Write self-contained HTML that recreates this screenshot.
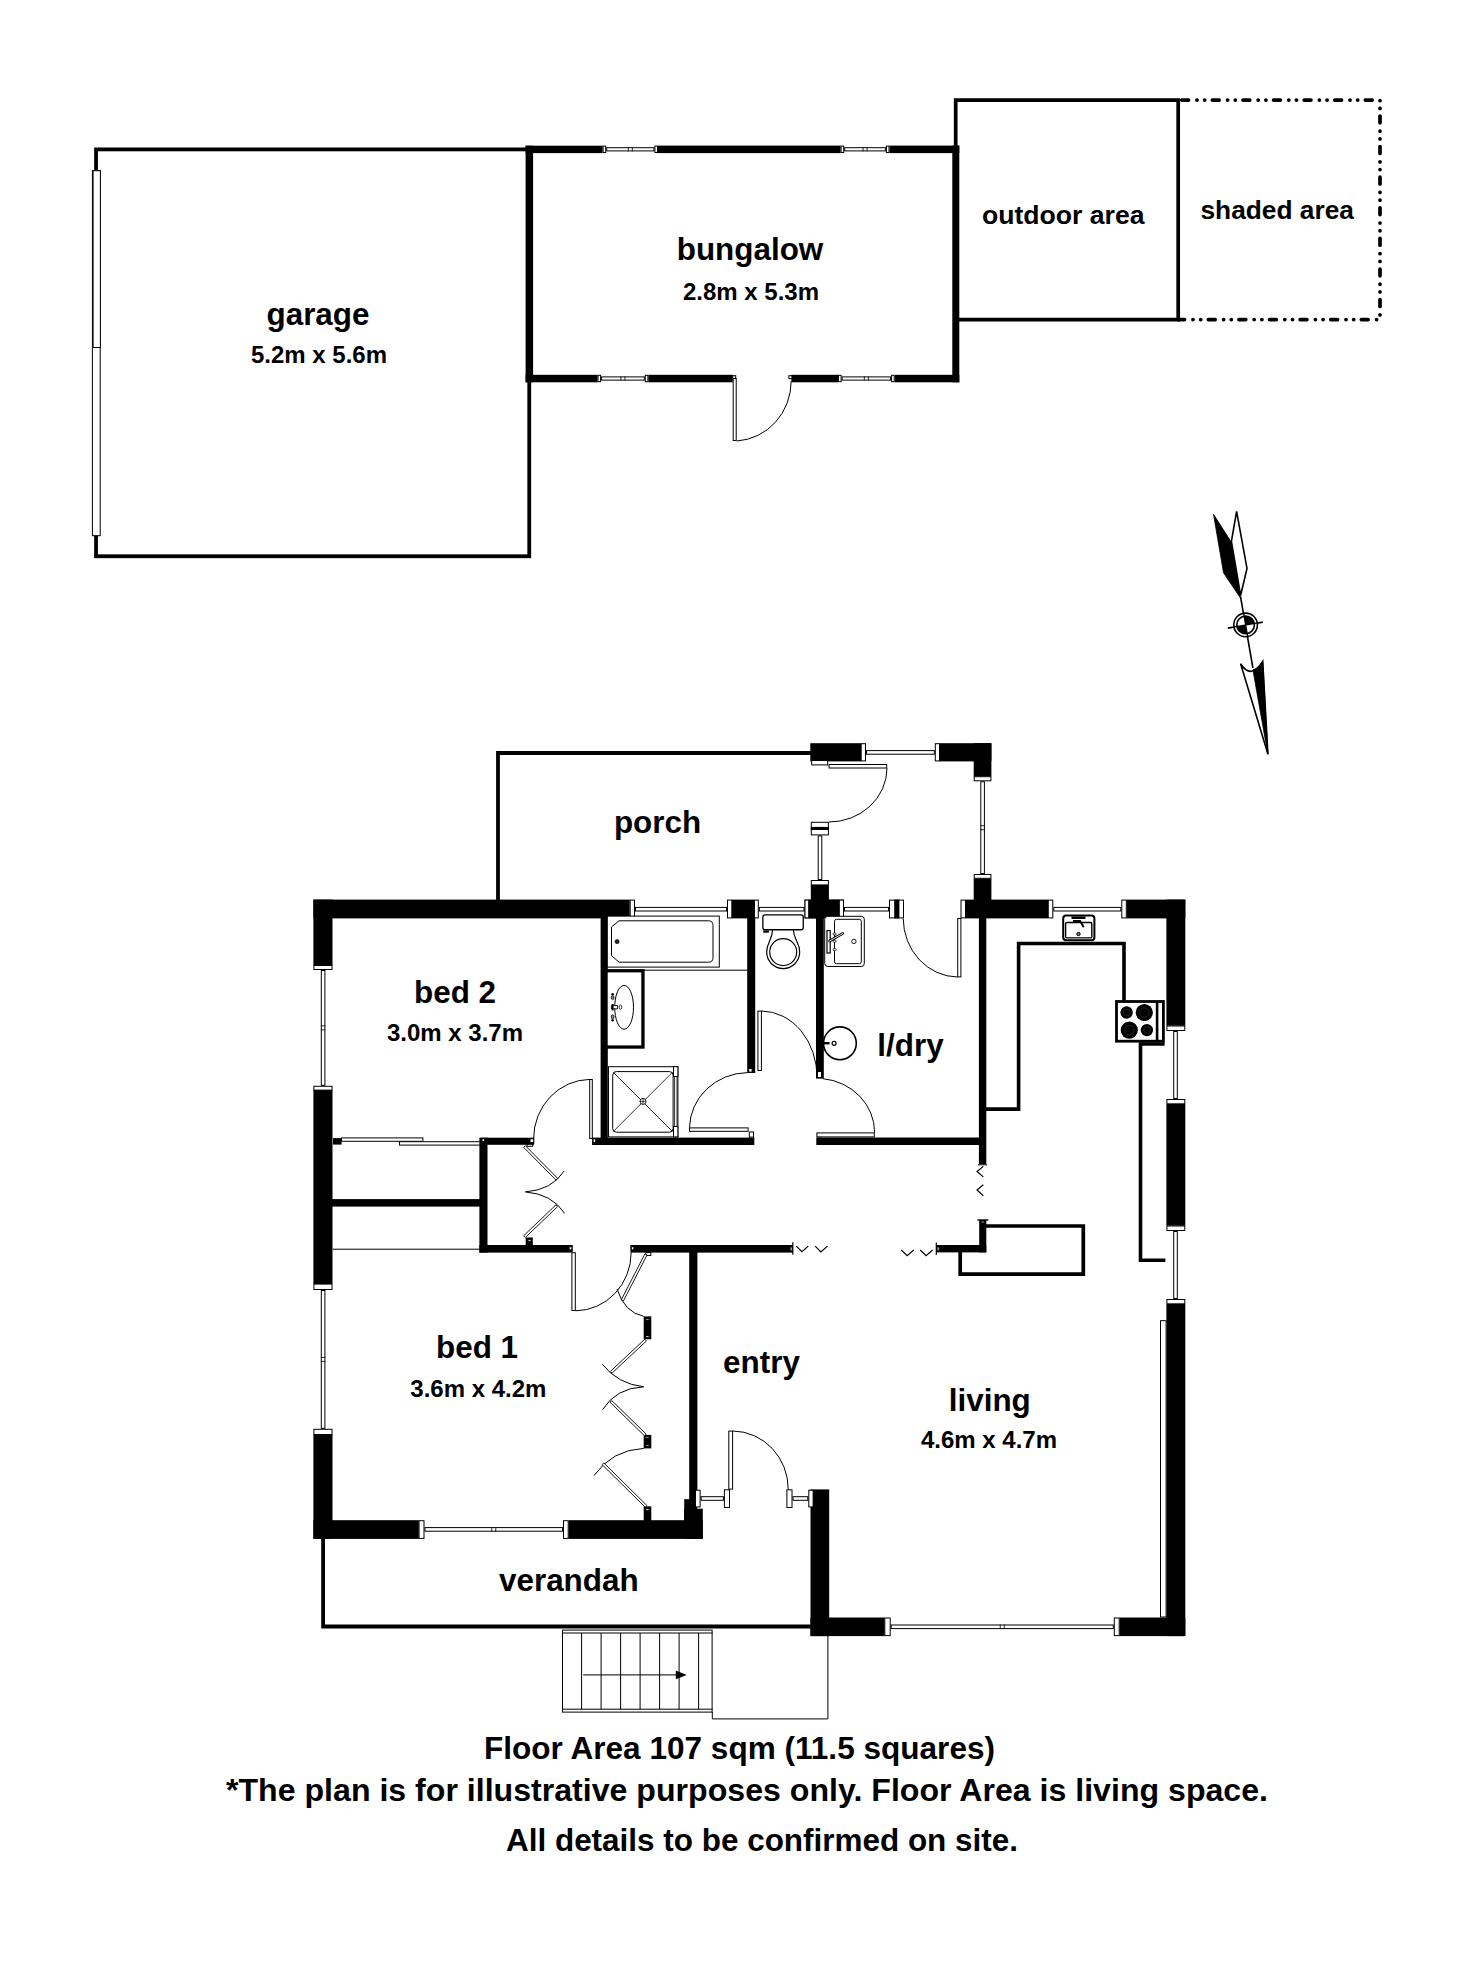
<!DOCTYPE html>
<html lang="en">
<head>
<meta charset="utf-8">
<title>Floor Plan</title>
<style>
html,body{margin:0;padding:0;background:#fff;}
body{width:1472px;height:1963px;overflow:hidden;}
svg{display:block;}
svg text{font-family:"Liberation Sans",sans-serif;font-weight:bold;fill:#000;}
.c{fill:#fff;stroke:#000;}
.t{fill:none;stroke:#000;}
</style>
</head>
<body>
<svg width="1472" height="1963" viewBox="0 0 1472 1963">
<rect x="0" y="0" width="1472" height="1963" fill="#fff"/>
<g id="garage">
<rect class="t" x="96.05" y="149.4" width="433.2" height="406.85" stroke-width="3.8"/>
<rect class="c" x="92.4" y="170.7" width="7.8" height="365" stroke-width="1"/>
<rect class="c" x="93.1" y="170.7" width="7.3" height="176.8" stroke-width="1"/>
</g>
<g id="outdoor">
<path d="M955.7 150 V100.1 H1178.2 V319.6 H957" fill="none" stroke="#000" stroke-width="3.7"/>
<path d="M1178 100.1 H1380" fill="none" stroke="#000" stroke-width="3.7" stroke-dasharray="6.8 8.4 0.1 7.6 0.1 7.6" stroke-linecap="round" stroke-dashoffset="-3.75"/>
<path d="M1380 100.1 V319.6" fill="none" stroke="#000" stroke-width="3.7" stroke-dasharray="6.8 8.4 0.1 7.6 0.1 7.6" stroke-linecap="round" stroke-dashoffset="-15.9"/>
<path d="M1178 319.6 H1380" fill="none" stroke="#000" stroke-width="3.7" stroke-dasharray="6.8 8.4 0.1 7.6 0.1 7.6" stroke-linecap="round" stroke-dashoffset="0.25"/>
</g>
<g id="bungalow">
<rect x="525.6" y="145.7" width="7.5" height="236.6"/>
<rect x="952.3" y="145.6" width="7" height="236.7"/>
<rect x="525.6" y="145.7" width="77" height="7.4"/>
<rect x="658" y="145.6" width="182.6" height="7.5"/>
<rect x="889.5" y="145.6" width="69.8" height="7.5"/>
<rect x="525.6" y="374.8" width="71.9" height="7.5"/>
<rect x="648.4" y="374.8" width="84.3" height="7.5"/>
<rect x="791.4" y="374.8" width="46.6" height="7.5"/>
<rect x="894.7" y="374.8" width="64.6" height="7.5"/>
<rect class="c" x="603.1" y="146.1" width="2.6" height="6.4" stroke-width="1"/>
<rect class="c" x="654.9" y="146.1" width="2.6" height="6.4" stroke-width="1"/>
<rect class="c" x="606.7" y="147.7" width="47.2" height="3.2" stroke-width="1"/>
<line x1="628.3" y1="147.2" x2="628.3" y2="151.4" stroke="#000" stroke-width="0.8"/>
<line x1="632.3" y1="147.2" x2="632.3" y2="151.4" stroke="#000" stroke-width="0.8"/>
<rect class="c" x="841.1" y="146.1" width="2.6" height="6.4" stroke-width="1"/>
<rect class="c" x="886.4" y="146.1" width="2.6" height="6.4" stroke-width="1"/>
<rect class="c" x="844.7" y="147.7" width="40.7" height="3.2" stroke-width="1"/>
<line x1="863.05" y1="147.2" x2="863.05" y2="151.4" stroke="#000" stroke-width="0.8"/>
<line x1="867.05" y1="147.2" x2="867.05" y2="151.4" stroke="#000" stroke-width="0.8"/>
<rect class="c" x="598" y="375.3" width="2.6" height="6.4" stroke-width="1"/>
<rect class="c" x="645.3" y="375.3" width="2.6" height="6.4" stroke-width="1"/>
<rect class="c" x="601.6" y="376.9" width="42.7" height="3.2" stroke-width="1"/>
<line x1="620.95" y1="376.4" x2="620.95" y2="380.6" stroke="#000" stroke-width="0.8"/>
<line x1="624.95" y1="376.4" x2="624.95" y2="380.6" stroke="#000" stroke-width="0.8"/>
<rect class="c" x="838.5" y="375.3" width="2.6" height="6.4" stroke-width="1"/>
<rect class="c" x="891.6" y="375.3" width="2.6" height="6.4" stroke-width="1"/>
<rect class="c" x="842.1" y="376.9" width="48.5" height="3.2" stroke-width="1"/>
<line x1="864.35" y1="376.4" x2="864.35" y2="380.6" stroke="#000" stroke-width="0.8"/>
<line x1="868.35" y1="376.4" x2="868.35" y2="380.6" stroke="#000" stroke-width="0.8"/>
<rect class="c" x="732.7" y="375.7" width="3" height="3" stroke-width="1"/>
<rect class="c" x="788.9" y="375.7" width="3" height="3" stroke-width="1"/>
<rect class="c" x="733.2" y="378.5" width="3" height="62" stroke-width="1"/>
<path d="M736.7 441 A58 60 0 0 0 791.2 381" fill="none" stroke="#000" stroke-width="1"/>
</g>
<g id="north">
<path d="M1213.5 514.3 L1230.9 541.6 L1240.8 598.6 L1223.5 572.8 Z" fill="#000" stroke="#000" stroke-width="0.8"/>
<path d="M1236.6 511.3 L1231.4 541.4 L1240.6 595.5 L1247 568.4 Z" fill="#fff" stroke="#000" stroke-width="1.6" stroke-linejoin="miter"/>
<line x1="1240.6" y1="597" x2="1252.9" y2="668" stroke="#000" stroke-width="1.6"/>
<line x1="1227.8" y1="628.1" x2="1262.8" y2="622.1" stroke="#000" stroke-width="1.6"/>
<circle cx="1245.6" cy="624.9" r="11.8" fill="#fff" stroke="#000" stroke-width="1.6"/>
<circle cx="1245.6" cy="624.9" r="8.8" fill="#fff" stroke="#000" stroke-width="1.6"/>
<g transform="rotate(-9.7 1245.6 624.9)">
<path d="M1245.6 624.9 V616.1 A8.8 8.8 0 0 1 1254.4 624.9 Z" fill="#000"/>
<path d="M1245.6 624.9 V633.7 A8.8 8.8 0 0 1 1236.8 624.9 Z" fill="#000"/>
</g>
<line x1="1243.5" y1="612.5" x2="1247.8" y2="637.5" stroke="#000" stroke-width="1.4"/>
<line x1="1233.5" y1="627.1" x2="1257.8" y2="622.9" stroke="#000" stroke-width="1.4"/>
<path d="M1240.6 663.8 Q1251 680 1262.7 661.4 L1267.9 754 Z" fill="#fff" stroke="#000" stroke-width="1.6" stroke-linejoin="miter"/>
<path d="M1252.9 669.8 Q1258.6 668.5 1262.7 661 L1267.9 754.4 Z" fill="#000" stroke="#000" stroke-width="0.8"/>
</g>
<g id="porch">
<path d="M498 900 V753 H811" fill="none" stroke="#000" stroke-width="3.8"/>
</g>
<g id="verandah">
<path d="M323.1 1538 V1626.5 H811" fill="none" stroke="#000" stroke-width="3.8"/>
<path d="M827.9 1635 V1718.9 H712.3 V1712" fill="none" stroke="#000" stroke-width="1"/>
<rect class="c" x="562.5" y="1630.1" width="149.6" height="82" stroke-width="1"/>
<line x1="562" y1="1633" x2="712.6" y2="1633" stroke="#000" stroke-width="1"/>
<line x1="562" y1="1709.2" x2="712.6" y2="1709.2" stroke="#000" stroke-width="1"/>
<line x1="581.6" y1="1633" x2="581.6" y2="1709.2" stroke="#000" stroke-width="1"/>
<line x1="601.1" y1="1633" x2="601.1" y2="1709.2" stroke="#000" stroke-width="1"/>
<line x1="620.6" y1="1633" x2="620.6" y2="1709.2" stroke="#000" stroke-width="1"/>
<line x1="640.1" y1="1633" x2="640.1" y2="1709.2" stroke="#000" stroke-width="1"/>
<line x1="659.6" y1="1633" x2="659.6" y2="1709.2" stroke="#000" stroke-width="1"/>
<line x1="679.1" y1="1633" x2="679.1" y2="1709.2" stroke="#000" stroke-width="1"/>
<line x1="698.6" y1="1633" x2="698.6" y2="1709.2" stroke="#000" stroke-width="1"/>
<line x1="583.2" y1="1674.9" x2="678" y2="1674.9" stroke="#000" stroke-width="1"/>
<path d="M675.8 1670.6 L686.8 1674.9 L675.8 1679.2 Z" fill="#000"/>
</g>
<g id="walls">
<rect x="313.4" y="899.6" width="19.1" height="65.9"/>
<rect x="313.4" y="1090" width="19.1" height="194"/>
<rect x="313.4" y="1434.5" width="19.1" height="104.4"/>
<rect x="313.4" y="899.6" width="316.3" height="18.8"/>
<rect x="732" y="899.6" width="22.3" height="18.8"/>
<rect x="809" y="899.6" width="30" height="18.8"/>
<rect x="965.8" y="899.6" width="82.2" height="18.8"/>
<rect x="1126.6" y="899.6" width="58.7" height="18.8"/>
<rect x="1166.4" y="899.6" width="18.9" height="126.1"/>
<rect x="1166.4" y="1104" width="18.9" height="121.7"/>
<rect x="1166.4" y="1304" width="18.9" height="332.1"/>
<rect x="810.5" y="1617.5" width="74.1" height="18.6"/>
<rect x="1119.5" y="1617.5" width="65.8" height="18.6"/>
<rect x="810.5" y="1489.4" width="18.7" height="146.7"/>
<rect x="313.4" y="1520.2" width="105.4" height="18.7"/>
<rect x="568.5" y="1520.2" width="134.3" height="18.7"/>
<rect x="684.2" y="1499.2" width="13.2" height="39.7"/>
<rect x="684.2" y="1508.7" width="18.6" height="30.2"/>
<rect x="689.2" y="1252" width="8.2" height="248"/>
<rect x="600.6" y="917.9" width="7.2" height="227.1"/>
<rect x="480.8" y="1137.7" width="53.4" height="7.1"/>
<rect x="333" y="1138.1" width="8.6" height="6.5"/>
<rect x="592.1" y="1137.6" width="162.2" height="7.4"/>
<rect x="479.4" y="1137.7" width="8.1" height="114.9"/>
<rect x="479.4" y="1245" width="93.3" height="7.6"/>
<rect x="332" y="1199.1" width="148" height="7.5"/>
<rect x="525.7" y="1237.5" width="7.1" height="8.5"/>
<rect x="630.4" y="1245" width="162.6" height="7.6"/>
<rect x="747.2" y="917.9" width="8" height="155.1"/>
<rect x="816" y="917.9" width="7.8" height="160.7"/>
<rect x="816.3" y="1137.5" width="163.2" height="7.5"/>
<rect x="978.9" y="917.9" width="7.4" height="246.3"/>
<rect x="979.2" y="1220" width="7.1" height="32.4"/>
<rect x="936.1" y="1245" width="50.2" height="7.4"/>
<rect x="810.3" y="743.2" width="50.7" height="18.2"/>
<rect x="939.6" y="743.2" width="51.8" height="18.2"/>
<rect x="973.7" y="743.2" width="17.7" height="33.3"/>
<rect x="973.7" y="878.5" width="17.7" height="21.6"/>
<rect x="810.8" y="885" width="18.1" height="15.1"/>
<rect x="804.5" y="899.6" width="39.5" height="18.8"/>
<rect x="643.7" y="1316.4" width="7.6" height="22.9"/>
<rect x="643.7" y="1434.9" width="7.6" height="13.5"/>
<rect x="643.7" y="1506.4" width="7.6" height="14.6"/>
</g>
<g id="caps">
<rect class="c" x="313.9" y="965.5" width="18.1" height="4" stroke-width="1"/>
<rect class="c" x="313.9" y="1086.3" width="18.1" height="3.8" stroke-width="1"/>
<rect class="c" x="313.9" y="1284.1" width="18.1" height="5.4" stroke-width="1"/>
<rect class="c" x="313.9" y="1429.3" width="18.1" height="5.2" stroke-width="1"/>
<rect class="c" x="321.3" y="970.5" width="3.6" height="114.8" stroke-width="1"/>
<line x1="320.8" y1="1025.9" x2="325.4" y2="1025.9" stroke="#000" stroke-width="0.8"/>
<line x1="320.8" y1="1029.9" x2="325.4" y2="1029.9" stroke="#000" stroke-width="0.8"/>
<rect class="c" x="321.3" y="1290.5" width="3.6" height="137.8" stroke-width="1"/>
<line x1="320.8" y1="1357.4" x2="325.4" y2="1357.4" stroke="#000" stroke-width="0.8"/>
<line x1="320.8" y1="1361.4" x2="325.4" y2="1361.4" stroke="#000" stroke-width="0.8"/>
<rect class="c" x="630.2" y="900.1" width="4.3" height="17.8" stroke-width="1"/>
<rect class="c" x="727.5" y="900.1" width="4.3" height="17.8" stroke-width="1"/>
<rect class="c" x="635.5" y="907.4" width="91" height="3.6" stroke-width="1"/>
<rect class="c" x="754.5" y="900.1" width="3.8" height="17.8" stroke-width="1"/>
<rect class="c" x="805" y="900.1" width="3.7" height="17.8" stroke-width="1"/>
<rect class="c" x="759.3" y="907.4" width="44.7" height="3.6" stroke-width="1"/>
<rect class="c" x="839.3" y="900.1" width="4.2" height="17.8" stroke-width="1"/>
<rect class="c" x="844.5" y="907.4" width="44" height="3.6" stroke-width="1"/>
<rect class="c" x="889.5" y="900.1" width="14" height="17.8" stroke-width="1"/>
<rect x="894.2" y="899.6" width="5.2" height="18.8"/>
<rect class="c" x="961" y="900.1" width="4.5" height="17.8" stroke-width="1"/>
<rect class="c" x="1048.3" y="900.1" width="4.5" height="17.8" stroke-width="1"/>
<rect class="c" x="1121.8" y="900.1" width="4.5" height="17.8" stroke-width="1"/>
<rect class="c" x="1053.8" y="907.4" width="67" height="3.6" stroke-width="1"/>
<rect class="c" x="1166.9" y="1026" width="17.9" height="4.5" stroke-width="1"/>
<rect class="c" x="1166.9" y="1099.5" width="17.9" height="4.3" stroke-width="1"/>
<rect class="c" x="1173.7" y="1031.5" width="3.6" height="67" stroke-width="1"/>
<rect class="c" x="1166.9" y="1226" width="17.9" height="4.5" stroke-width="1"/>
<rect class="c" x="1166.9" y="1299.5" width="17.9" height="4.3" stroke-width="1"/>
<rect class="c" x="1173.7" y="1231.5" width="3.6" height="67" stroke-width="1"/>
<rect class="c" x="1160.5" y="1320.7" width="5.6" height="296.3" stroke-width="1"/>
<rect class="c" x="884.8" y="1618" width="5.4" height="17.6" stroke-width="1"/>
<rect class="c" x="1114.3" y="1618" width="4.9" height="17.6" stroke-width="1"/>
<rect class="c" x="891.2" y="1625" width="222.1" height="3.6" stroke-width="1"/>
<line x1="1000.25" y1="1624.5" x2="1000.25" y2="1629.1" stroke="#000" stroke-width="0.8"/>
<line x1="1004.25" y1="1624.5" x2="1004.25" y2="1629.1" stroke="#000" stroke-width="0.8"/>
<rect class="c" x="419.1" y="1520.7" width="4.9" height="17.7" stroke-width="1"/>
<rect class="c" x="563.5" y="1520.7" width="4.7" height="17.7" stroke-width="1"/>
<rect class="c" x="425" y="1527.6" width="137.5" height="3.6" stroke-width="1"/>
<line x1="491.75" y1="1527.1" x2="491.75" y2="1531.7" stroke="#000" stroke-width="0.8"/>
<line x1="495.75" y1="1527.1" x2="495.75" y2="1531.7" stroke="#000" stroke-width="0.8"/>
<rect class="c" x="695.5" y="1490.2" width="4.6" height="16.7" stroke-width="1"/>
<rect class="c" x="724.4" y="1489.8" width="5.1" height="17.7" stroke-width="1"/>
<rect class="c" x="701.1" y="1496.7" width="22.3" height="3.6" stroke-width="1"/>
<rect class="c" x="786.9" y="1489.8" width="5.1" height="17.7" stroke-width="1"/>
<rect class="c" x="808.8" y="1490.2" width="4.3" height="16.7" stroke-width="1"/>
<rect class="c" x="793" y="1496.7" width="14.8" height="3.6" stroke-width="1"/>
<rect class="c" x="861.2" y="743.7" width="4.3" height="17.2" stroke-width="1"/>
<rect class="c" x="935.3" y="743.7" width="4.2" height="17.2" stroke-width="1"/>
<rect class="c" x="866.5" y="750.6" width="67.8" height="3.6" stroke-width="1"/>
<rect class="c" x="811.7" y="760.5" width="16" height="4.4" stroke-width="1"/>
<rect class="c" x="974.2" y="776.7" width="16.7" height="4.1" stroke-width="1"/>
<rect class="c" x="974.2" y="874.5" width="16.7" height="3.8" stroke-width="1"/>
<rect class="c" x="980.8" y="781.8" width="3.6" height="91.7" stroke-width="1"/>
<line x1="980.3" y1="825.65" x2="984.9" y2="825.65" stroke="#000" stroke-width="0.8"/>
<line x1="980.3" y1="829.65" x2="984.9" y2="829.65" stroke="#000" stroke-width="0.8"/>
<rect class="c" x="811.3" y="822.3" width="17.1" height="12.6" stroke-width="1"/>
<rect x="810.8" y="826.9" width="18.1" height="3.1"/>
<rect class="c" x="811.3" y="880.5" width="17.1" height="4.4" stroke-width="1"/>
<rect class="c" x="818.2" y="835.9" width="3.6" height="43.6" stroke-width="1"/>
<rect class="c" x="530" y="1138.8" width="3.7" height="3.7" stroke-width="1"/>
<rect class="c" x="482" y="1138.8" width="2.5" height="2.7" stroke-width="1"/>
<rect class="c" x="593.1" y="1138.8" width="2.6" height="3.9" stroke-width="1"/>
<rect class="c" x="749.3" y="1132" width="4.2" height="5.1" stroke-width="1"/>
<rect class="c" x="817.5" y="1133.5" width="4" height="3.4" stroke-width="1"/>
<rect class="c" x="817.5" y="1071.5" width="4" height="6" stroke-width="1"/>
<rect class="c" x="748.7" y="1068.5" width="3.4" height="3.6" stroke-width="1"/>
<rect class="c" x="569.1" y="1246.7" width="2.8" height="3.2" stroke-width="1"/>
<rect class="c" x="631.3" y="1246.7" width="2.6" height="3.2" stroke-width="1"/>
<rect class="c" x="645.8" y="1252.5" width="5" height="3" stroke-width="1"/>
<rect class="c" x="527.1" y="1144.3" width="5.6" height="2" stroke-width="1"/>
<rect class="c" x="527.9" y="1239.3" width="3.2" height="2" stroke-width="1"/>
<rect class="c" x="645.7" y="1318.5" width="3.4" height="1.6" stroke-width="1"/>
<rect class="c" x="645.7" y="1335.5" width="3.4" height="1.8" stroke-width="1"/>
<rect class="c" x="645.7" y="1436.9" width="3.4" height="1.6" stroke-width="1"/>
<rect class="c" x="645.7" y="1444.5" width="3.4" height="1.6" stroke-width="1"/>
<rect class="c" x="645.7" y="1508.5" width="3.4" height="1.8" stroke-width="1"/>
</g>
<g id="doors">
<rect class="c" x="589.7" y="1079.5" width="2.6" height="59" stroke-width="1"/>
<path d="M589.6 1079.4 A57 59.5 0 0 0 533.6 1138.5" fill="none" stroke="#000" stroke-width="1"/>
<rect class="c" x="689.5" y="1127.9" width="58.6" height="3.4" stroke-width="1"/>
<path d="M689.5 1127.6 A59 56 0 0 1 747.4 1072.6" fill="none" stroke="#000" stroke-width="1"/>
<rect class="c" x="757.9" y="1011.1" width="3.5" height="59.4" stroke-width="1"/>
<path d="M761.6 1011 A56 66 0 0 1 817 1078" fill="none" stroke="#000" stroke-width="1"/>
<rect class="c" x="816.9" y="1132.9" width="57.4" height="4" stroke-width="1"/>
<path d="M874.6 1132.6 A58 54 0 0 0 822.5 1078.6" fill="none" stroke="#000" stroke-width="1"/>
<rect class="c" x="957.7" y="918.5" width="3.2" height="58.4" stroke-width="1"/>
<path d="M957.6 977 A55 59 0 0 1 903.2 918.4" fill="none" stroke="#000" stroke-width="1"/>
<rect class="c" x="829.1" y="764.5" width="57.6" height="3.5" stroke-width="1"/>
<path d="M887 768.2 A58 54 0 0 1 829 822" fill="none" stroke="#000" stroke-width="1"/>
<rect class="c" x="571.9" y="1252.7" width="3.4" height="57.8" stroke-width="1"/>
<path d="M575.6 1310.8 A56 58.5 0 0 0 631.2 1252.4" fill="none" stroke="#000" stroke-width="1"/>
<rect class="c" x="728.8" y="1431.1" width="3.8" height="58" stroke-width="1"/>
<path d="M733 1431 A56 58 0 0 1 788.2 1489.4" fill="none" stroke="#000" stroke-width="1"/>
<rect class="c" x="341.5" y="1137.9" width="81.4" height="3.4" stroke-width="1"/>
<rect class="c" x="399.5" y="1141.7" width="80.4" height="3.4" stroke-width="1"/>
<line x1="332.6" y1="1249.2" x2="479.6" y2="1249.2" stroke="#000" stroke-width="1"/>
<path d="M644.93 1253.85 L621.33 1299.75 L623.47 1300.85 L647.07 1254.95 Z" fill="#fff" stroke="#000" stroke-width="0.9"/>
<path d="M617.2 1289.2 Q624 1312 643.7 1316.4" fill="none" stroke="#000" stroke-width="1"/>
<path d="M644.78 1339.22 L610.48 1371.32 L612.12 1373.08 L646.42 1340.98 Z" fill="#fff" stroke="#000" stroke-width="0.9"/>
<path d="M602.3 1364.3 Q618 1384 643.7 1386.8" fill="none" stroke="#000" stroke-width="1"/>
<path d="M643.7 1386.8 Q616 1388 602.6 1409.7" fill="none" stroke="#000" stroke-width="1"/>
<path d="M610.06 1402.26 L644.46 1435.76 L646.14 1434.04 L611.74 1400.54 Z" fill="#fff" stroke="#000" stroke-width="0.9"/>
<path d="M643.7 1448.4 Q612 1450 594 1475.6" fill="none" stroke="#000" stroke-width="1"/>
<path d="M602.16 1464.65 L645.26 1507.25 L646.94 1505.55 L603.84 1462.95 Z" fill="#fff" stroke="#000" stroke-width="0.9"/>
<path d="M523.65 1147.34 L555.95 1180.04 L557.65 1178.36 L525.35 1145.66 Z" fill="#fff" stroke="#000" stroke-width="0.9"/>
<path d="M564.2 1170.9 Q552 1190 525.4 1191.9" fill="none" stroke="#000" stroke-width="1"/>
<path d="M525.4 1191.9 Q552 1194 564.6 1213.3" fill="none" stroke="#000" stroke-width="1"/>
<path d="M555.97 1204.83 L523.67 1235.73 L525.33 1237.47 L557.63 1206.57 Z" fill="#fff" stroke="#000" stroke-width="0.9"/>
<path d="M796.3 1246.1 L801.9 1251.7 L808.3 1246.1" fill="none" stroke="#000" stroke-width="1.2"/>
<path d="M815.2 1246.1 L820.9 1252 L827.4 1246.1" fill="none" stroke="#000" stroke-width="1.2"/>
<path d="M901.3 1250 L907.2 1255.6 L913.7 1250" fill="none" stroke="#000" stroke-width="1.2"/>
<path d="M920.2 1250 L926.1 1255.6 L932.6 1250" fill="none" stroke="#000" stroke-width="1.2"/>
<path d="M983.3 1166.4 L977 1171.5 L983.3 1176.9" fill="none" stroke="#000" stroke-width="1.2"/>
<path d="M983.3 1184.7 L977 1190 L983.3 1195.7" fill="none" stroke="#000" stroke-width="1.2"/>
<line x1="792.8" y1="1242.2" x2="792.8" y2="1254.8" stroke="#000" stroke-width="1.2"/>
<rect class="c" x="790.1" y="1246.9" width="2" height="4" stroke-width="1"/>
<line x1="936.3" y1="1242.6" x2="936.3" y2="1255" stroke="#000" stroke-width="1.2"/>
<rect class="c" x="937.1" y="1246.9" width="2" height="4" stroke-width="1"/>
<line x1="977.4" y1="1220" x2="988.3" y2="1220" stroke="#000" stroke-width="1.4"/>
<rect class="c" x="981.1" y="1221.1" width="3.2" height="1.8" stroke-width="1"/>
<line x1="978" y1="1164.8" x2="987.2" y2="1164.8" stroke="#000" stroke-width="1"/>
</g>
<g id="kitchen">
<path d="M986 1109.1 H1018.6 V943.5 H1124 V1001" fill="none" stroke="#000" stroke-width="3.6"/>
<path d="M1164.6 1044 H1140.5 V1260.2 H1165.4" fill="none" stroke="#000" stroke-width="3.6"/>
<path d="M986 1226 H1083.3 V1274.2 H960.2 V1252" fill="none" stroke="#000" stroke-width="3.7"/>
<rect class="c" x="1116.5" y="1001.5" width="46.9" height="39.7" stroke-width="2.8"/>
<line x1="1157.1" y1="1001" x2="1157.1" y2="1042" stroke="#000" stroke-width="2.6"/>
<circle cx="1126.6" cy="1012.5" r="6.2" fill="#000"/>
<circle cx="1126.6" cy="1012.5" r="3.41" fill="none" stroke="#444" stroke-width="0.5"/>
<circle cx="1144.3" cy="1012.5" r="8.6" fill="#000"/>
<circle cx="1144.3" cy="1012.5" r="4.73" fill="none" stroke="#444" stroke-width="0.5"/>
<circle cx="1129.3" cy="1030.1" r="8.6" fill="#000"/>
<circle cx="1129.3" cy="1030.1" r="4.73" fill="none" stroke="#444" stroke-width="0.5"/>
<circle cx="1146.9" cy="1030.1" r="6.2" fill="#000"/>
<circle cx="1146.9" cy="1030.1" r="3.41" fill="none" stroke="#444" stroke-width="0.5"/>
<rect class="c" x="1063.2" y="915.4" width="31.2" height="24.8" stroke-width="2" rx="3"/>
<rect class="c" x="1065.6" y="922.5" width="26.2" height="15.4" stroke-width="1.4" rx="1.2"/>
<rect x="1071.5" y="916.4" width="14" height="2.6"/>
<path d="M1073 921 H1080 L1083.8 927.3" fill="none" stroke="#000" stroke-width="2"/>
<circle cx="1078.5" cy="934" r="1.7" fill="#777" stroke="#000" stroke-width="1"/>
</g>
<g id="bath">
<rect class="c" x="607.3" y="916.1" width="112" height="51" stroke-width="1"/>
<path d="M619 920.8 H708.5 Q713 920.8 713 925.3 V957.7 Q713 962.2 708.5 962.2 H619 L611.5 955.6 V927 Z" fill="#fff" stroke="#000" stroke-width="1"/>
<circle cx="617.1" cy="941.6" r="2.1" fill="#222" stroke="#000" stroke-width="0.6"/>
<line x1="643" y1="970.2" x2="747.4" y2="970.2" stroke="#000" stroke-width="1"/>
<rect class="c" x="606.05" y="970.75" width="36.9" height="76.3" stroke-width="3.3"/>
<ellipse cx="624.1" cy="1007.3" rx="9.4" ry="21.9" fill="#fff" stroke="#000" stroke-width="1"/>
<ellipse cx="620.6" cy="1007.2" rx="1.3" ry="2.2" fill="#fff" stroke="#000" stroke-width="0.8"/>
<ellipse cx="612.6" cy="997.6" rx="1.4" ry="2" fill="#888" stroke="#000" stroke-width="0.8"/>
<ellipse cx="612.6" cy="994.2" rx="1.2" ry="1.2" fill="#000"/>
<ellipse cx="612.6" cy="1016.8" rx="1.4" ry="2" fill="#888" stroke="#000" stroke-width="0.8"/>
<ellipse cx="612.6" cy="1020.2" rx="1.2" ry="1.2" fill="#000"/>
<path d="M611.4 1005.6 H617.6 V1008.8 H611.4 Z" fill="#fff" stroke="#000" stroke-width="0.9"/>
<rect x="611.6" y="1004" width="2" height="6.4"/>
<rect class="c" x="608.5" y="1066.7" width="69.4" height="70.2" stroke-width="1"/>
<rect class="c" x="612.7" y="1071.6" width="60.4" height="60.6" stroke-width="1" rx="3.6"/>
<line x1="613.6" y1="1072.6" x2="672.2" y2="1131.2" stroke="#000" stroke-width="0.8"/>
<line x1="672.2" y1="1072.6" x2="613.6" y2="1131.2" stroke="#000" stroke-width="0.8"/>
<circle cx="643" cy="1101.4" r="3" fill="#fff" stroke="#000" stroke-width="0.9"/>
<line x1="640.2" y1="1101.4" x2="645.8" y2="1101.4" stroke="#000" stroke-width="0.7"/>
<line x1="643" y1="1098.6" x2="643" y2="1104.2" stroke="#000" stroke-width="0.7"/>
<rect class="c" x="673.5" y="1066.7" width="4.4" height="9.8" stroke-width="1"/>
<rect class="c" x="673.5" y="1126.5" width="4.4" height="10.4" stroke-width="1"/>
<line x1="674.6" y1="1077" x2="674.6" y2="1126" stroke="#000" stroke-width="0.8"/>
<line x1="677" y1="1077" x2="677" y2="1126" stroke="#000" stroke-width="0.8"/>
</g>
<g id="wc">
<path d="M772.5 930 C772.2 940.5 766.7 942 766.7 952.1 A16.5 16.5 0 1 0 799.7 952.1 C799.7 942 794 940.5 793.3 930" fill="#fff" stroke="#000" stroke-width="1.2"/>
<circle cx="783.2" cy="952.1" r="13.5" fill="#fff" stroke="#000" stroke-width="1.2"/>
<rect class="c" x="762.85" y="914.85" width="40.4" height="14.9" stroke-width="1.3" rx="2.2"/>
<rect x="763.2" y="930.4" width="5.7" height="2.3"/>
</g>
<g id="laundry">
<rect class="c" x="824.7" y="916.3" width="39.6" height="50.2" stroke-width="1" rx="3"/>
<rect class="c" x="834.5" y="919.3" width="26.8" height="44.4" stroke-width="1" rx="2"/>
<rect class="c" x="827" y="930.6" width="3.2" height="22.4" stroke-width="1.2"/>
<circle cx="853.9" cy="941.4" r="2.2" fill="#fff" stroke="#000" stroke-width="0.9"/>
<ellipse cx="834.6" cy="934" rx="1.6" ry="1.1" fill="#fff" stroke="#000" stroke-width="0.8"/>
<ellipse cx="834.6" cy="941.2" rx="1.6" ry="1.1" fill="#fff" stroke="#000" stroke-width="0.8"/>
<ellipse cx="834.6" cy="949.6" rx="1.6" ry="1.1" fill="#fff" stroke="#000" stroke-width="0.8"/>
<path d="M829.6 941 L842.8 933.4" fill="none" stroke="#000" stroke-width="2.6" stroke-linecap="round"/>
<path d="M829.6 941 L842.8 933.4" fill="none" stroke="#fff" stroke-width="0.9" stroke-linecap="round"/>
<circle cx="839.9" cy="1043.3" r="16.4" fill="#fff" stroke="#000" stroke-width="1.6"/>
<rect x="823.6" y="1042" width="6" height="2.4"/>
<circle cx="834.1" cy="1043.3" r="2" fill="#fff" stroke="#000" stroke-width="1.2"/>
</g>
<g id="labels">
<text x="318" y="325.3" font-size="31.4" text-anchor="middle">garage</text>
<text x="319" y="363.4" font-size="24" text-anchor="middle">5.2m x 5.6m</text>
<text x="750" y="260.3" font-size="31.4" text-anchor="middle">bungalow</text>
<text x="751" y="299.8" font-size="24" text-anchor="middle">2.8m x 5.3m</text>
<text x="1063.2" y="223.7" font-size="26.6" text-anchor="middle">outdoor area</text>
<text x="1277.2" y="219.1" font-size="26.3" text-anchor="middle">shaded area</text>
<text x="657.5" y="833.4" font-size="31.4" text-anchor="middle">porch</text>
<text x="455" y="1002.8" font-size="31.4" text-anchor="middle">bed 2</text>
<text x="455" y="1040.8" font-size="24" text-anchor="middle">3.0m x 3.7m</text>
<text x="910.5" y="1055.8" font-size="31.4" text-anchor="middle">l/dry</text>
<text x="477" y="1358.3" font-size="31.4" text-anchor="middle">bed 1</text>
<text x="478.4" y="1397" font-size="24" text-anchor="middle">3.6m x 4.2m</text>
<text x="761.5" y="1372.8" font-size="31.4" text-anchor="middle">entry</text>
<text x="989.8" y="1410.6" font-size="31.4" text-anchor="middle">living</text>
<text x="989" y="1448" font-size="24" text-anchor="middle">4.6m x 4.7m</text>
<text x="568.8" y="1590.8" font-size="31.4" text-anchor="middle">verandah</text>
<text x="484" y="1759.2" font-size="31" text-anchor="start" textLength="511" lengthAdjust="spacingAndGlyphs">Floor Area 107 sqm (11.5 squares)</text>
<text x="226" y="1800.6" font-size="31.2" text-anchor="start" textLength="1042" lengthAdjust="spacingAndGlyphs">*The plan is for illustrative purposes only. Floor Area is living space.</text>
<text x="506" y="1850.5" font-size="31" text-anchor="start" textLength="512" lengthAdjust="spacingAndGlyphs">All details to be confirmed on site.</text>
</g>
</svg>
</body>
</html>
